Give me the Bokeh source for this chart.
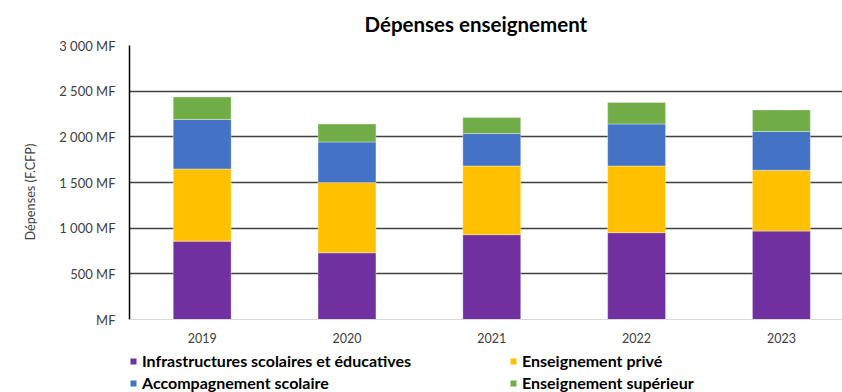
from bokeh.plotting import figure
from bokeh.models import (ColumnDataSource, FixedTicker, Range1d, Legend, LegendItem,
                          Span, Title)
from bokeh.core.properties import value
from bokeh.embed import file_html
from bokeh.resources import INLINE

years = ["2019", "2020", "2021", "2022", "2023"]
infra = [858, 731, 929, 951, 968]
prive = [790, 768, 752, 730, 666]
accomp = [542, 445, 355, 460, 424]
sup = [247, 197, 175, 235, 237]
series_names = ["Infrastructures scolaires et éducatives", "Enseignement privé",
                "Accompagnement scolaire", "Enseignement supérieur"]
colors = ["#7030A0", "#FFC000", "#4472C4", "#70AD47"]
y_ticks = [0, 500, 1000, 1500, 2000, 2500, 3000]
y_tick_labels = ["MF", "500 MF", "1 000 MF", "1 500 MF", "2 000 MF", "2 500 MF", "3 000 MF"]

idx = list(range(len(years)))
src = ColumnDataSource(dict(x=idx, infra=infra, prive=prive, accomp=accomp, sup=sup,
                            year=years, base=[0] * len(years)))

FONT = "Lato"
TXT = "#404040"

# layout: frame spans from y=45 (3000) to the bottom of the canvas; value 0 sits at y=319
W, H, TOP, ZERO_Y, LEFT = 842, 392, 45, 319, 129
y_max = y_ticks[-1]
y_min = -y_max * (H - ZERO_Y) / (ZERO_Y - TOP)

p = figure(width=W, height=H, x_range=Range1d(-0.502, 4.422), y_range=Range1d(y_min, y_max),
           output_backend="svg", toolbar_location=None, x_axis_location=None,
           min_border_left=LEFT, min_border_right=0, min_border_top=TOP, min_border_bottom=0)
p.outline_line_color = None

p.title.text = "Dépenses enseignement"
p.title.align = "left"
p.title.offset = 235
p.title.text_font = FONT
p.title.text_font_size = "20.5px"
p.title.text_font_style = "bold"
p.title.text_color = "#000000"
p.title.standoff = 19

p.xgrid.visible = False
p.ygrid.ticker = FixedTicker(ticks=y_ticks[1:])
p.ygrid.grid_line_color = "#404040"
p.ygrid.grid_line_width = 1.5

renderers = p.vbar_stack(["infra", "prive", "accomp", "sup"], x="x", width=0.4, source=src,
                         fill_color=colors, line_color="white", line_width=0.6, line_alpha=0.6)

# category axis baseline and labels
p.add_layout(Span(location=0, dimension="width", line_color="#D9D9D9", line_width=1))
p.text(x="x", y="base", text="year", source=src, y_offset=13, text_align="center",
       text_baseline="top", text_font=value(FONT), text_font_size="12.5px", text_color=TXT)

ya = p.yaxis[0]
ya.ticker = FixedTicker(ticks=y_ticks)
ya.bounds = (0, y_max)
ya.major_label_overrides = {t: l for t, l in zip(y_ticks, y_tick_labels)}
ya.axis_line_color = "black"
ya.axis_line_width = 1.5
ya.major_tick_line_color = None
ya.minor_tick_line_color = None
ya.major_tick_out = 0
ya.major_tick_in = 0
ya.minor_tick_out = 0
ya.minor_tick_in = 0
ya.major_label_standoff = 14
ya.major_label_text_font = FONT
ya.major_label_text_font_size = "13px"
ya.major_label_text_color = TXT

ytitle = Title(text="Dépenses (F.CFP)", align="left", offset=152, standoff=38,
               text_font=FONT, text_font_size="12.7px", text_font_style="normal",
               text_color=TXT)
p.add_layout(ytitle, "left")

items = [LegendItem(label=n, renderers=[r]) for n, r in zip(series_names, renderers)]
legend = Legend(items=items, location=(0, 0), orientation="horizontal", ncols=2,
                label_text_font=FONT, label_text_font_size="16px", label_text_font_style="bold",
                label_text_color="#000000",
                glyph_width=8, glyph_height=8, label_width=364, label_height=18,
                spacing=3, padding=0, margin=0, label_standoff=5,
                border_line_color=None, background_fill_alpha=0)
p.add_layout(legend)

open("out.html", "w").write(file_html(p, INLINE))
